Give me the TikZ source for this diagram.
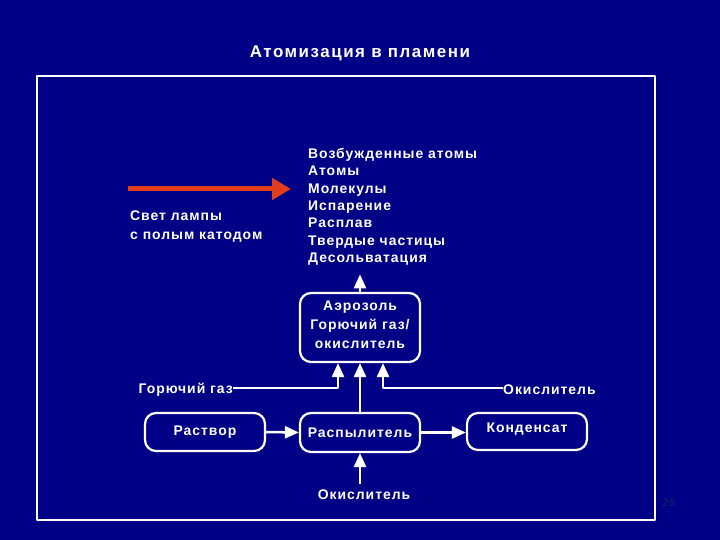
\documentclass[tikz,border=0pt]{standalone}
\usepackage{fontspec}
\setmainfont[LetterSpace=7]{Liberation Sans}
\newfontfamily\zagfont[LetterSpace=9]{Liberation Sans}
\usetikzlibrary{arrows.meta}
\usetikzlibrary{positioning}
\definecolor{navyfon}{RGB}{0,0,134}
\definecolor{lampred}{RGB}{226,62,30}
\definecolor{pagenum}{RGB}{30,30,100}

\begin{document}
\begin{tikzpicture}[x=1bp,y=-1bp,line join=round,
  txt/.style={text=white, font=\fontsize{14}{17.4}\selectfont\bfseries, inner sep=0pt},
  blok/.style={draw=white, line width=2.2bp, rounded corners=11bp, minimum width=120bp, align=center, txt},
  strelka/.style={draw=white, line width=2.5bp, -{Triangle[length=14bp, width=12bp]}}]
\useasboundingbox (0,0) rectangle (720,540);
\fill [navyfon] (0,0) rectangle (720,540);
\draw [white, line width=2bp] (37,76) rectangle (655,520);
% title and page number
\node [text=white, font=\zagfont\fontsize{17}{20}\selectfont\bfseries] (title) at (360,53.5) {Атомизация в пламени};
\node [text=pagenum, font=\fontsize{11}{13}\selectfont] (pnum) at (669,503) {26};
% stages of the flame
\node [txt, align=left, anchor=north west] (spisok) at (308,148) {Возбужденные атомы\\Атомы\\Молекулы\\Испарение\\Расплав\\Твердые частицы\\Десольватация};
\node [txt, align=left, anchor=north west, font=\fontsize{14}{19}\selectfont\bfseries] (lampa) at (130,210.5) {Свет лампы\\с полым катодом};
\coordinate (luch1) at (128,189);
\coordinate (luch2) at (291,189);
\draw [lampred, line width=5bp, -{Triangle[length=19bp, width=21bp]}] (luch1) -- (luch2);
% boxes
\node [blok, minimum height=69bp, text depth=6bp, font=\fontsize{14}{19}\selectfont\bfseries] (aer) at (360,327.5) {Аэрозоль\\Горючий газ/\\окислитель};
\node [blok, minimum height=39bp] (rasp) at (360,432.5) {Распылитель};
\node [blok, minimum height=38bp] (rastvor) at (205,432) {Раствор};
\node [blok, minimum height=37bp, text depth=7bp] (kond) at (527,431.5) {Конденсат};
% gases
\node [txt, anchor=east] (gaz) at (233,389.5) {Горючий газ};
\node [txt, anchor=west] (okis1) at (503,389.5) {Окислитель};
\node [txt] (okis2) at (364,495) {Окислитель};
% connectors
\draw [strelka] (aer.north) -- ([yshift=-9bp]aer.north |- spisok.south);
\draw [strelka] (rasp.north) -- (aer.south);
\draw [strelka] (rastvor.east) -- (rasp.west);
\draw [strelka] (rasp.east) -- (kond.west |- rasp.east);
\draw [strelka] (gaz.east |- 0,388) -| ([xshift=-22bp]aer.south);
\draw [strelka] (okis1.west |- 0,388) -| ([xshift=23bp]aer.south);
\draw [strelka] ([yshift=6bp]okis2.north -| rasp.south) -- (rasp.south);
\end{tikzpicture}
\end{document}
